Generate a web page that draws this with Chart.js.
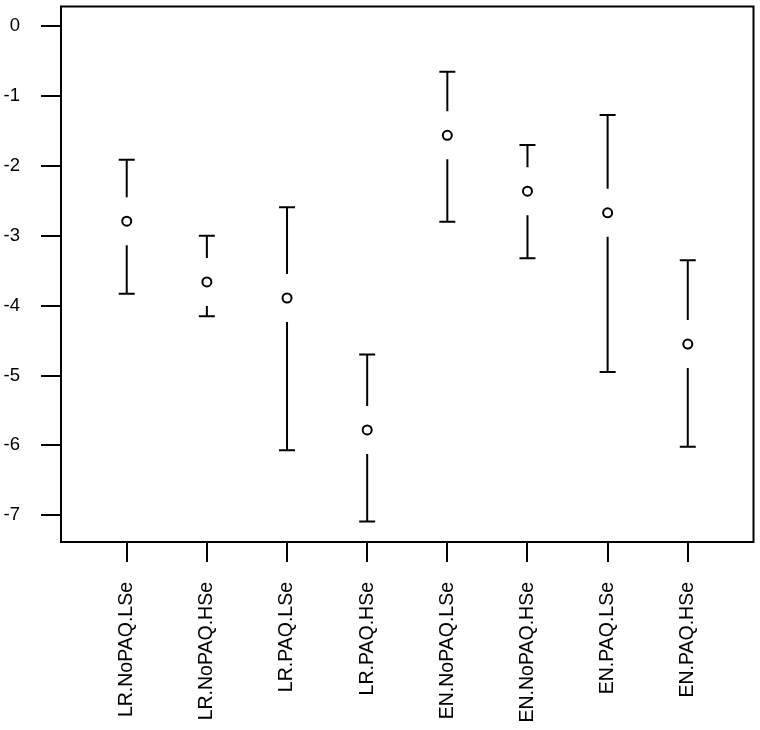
<!DOCTYPE html>
<html>
<head>
<meta charset="utf-8">
<script src="https://cdn.jsdelivr.net/npm/chart.js@4/dist/chart.umd.min.js"></script>
<style>
  html, body { margin: 0; padding: 0; background: #fff; }
  canvas { display: block; }
</style>
</head>
<body>
<canvas id="ciChart" width="760" height="730"></canvas>
<script>
// Categories along x (positions 1..8)
const categories = [
  'LR.NoPAQ.LSe', 'LR.NoPAQ.HSe', 'LR.PAQ.LSe', 'LR.PAQ.HSe',
  'EN.NoPAQ.LSe', 'EN.NoPAQ.HSe', 'EN.PAQ.LSe', 'EN.PAQ.HSe'
];
// Point estimates and interval bounds
const estimates = [-2.79, -3.66, -3.89, -5.78, -1.56, -2.36, -2.67, -4.55];
const upperCI   = [-1.91, -3.00, -2.59, -4.70, -0.65, -1.70, -1.27, -3.35];
const lowerCI   = [-3.83, -4.15, -6.07, -7.09, -2.80, -3.32, -4.95, -6.02];
// Y tick values
const yTicks = [0, -1, -2, -3, -4, -5, -6, -7];

const FONT = '"Liberation Sans", Arial, Helvetica, sans-serif';

// Draw the intervals like gplots::plotCI (gap around the point, flat caps)
const errorBars = {
  id: 'errorBars',
  afterDatasetsDraw(chart) {
    const { ctx, scales: { x, y } } = chart;
    const gap = 24, cap = 8;
    ctx.save();
    ctx.strokeStyle = '#000';
    ctx.lineWidth = 2;
    ctx.lineCap = 'butt';
    categories.forEach((_, i) => {
      const px = x.getPixelForValue(i + 1);
      const pm = y.getPixelForValue(estimates[i]);
      const pu = y.getPixelForValue(upperCI[i]);
      const pl = y.getPixelForValue(lowerCI[i]);
      ctx.beginPath();
      if (pm - gap > pu) { ctx.moveTo(px, pm - gap); ctx.lineTo(px, pu); }
      if (pm + gap < pl) { ctx.moveTo(px, pm + gap); ctx.lineTo(px, pl); }
      ctx.moveTo(px - cap, pu); ctx.lineTo(px + cap, pu);
      ctx.moveTo(px - cap, pl); ctx.lineTo(px + cap, pl);
      ctx.stroke();
    });
    ctx.restore();
  }
};

// Plot box around the chart area
const plotBox = {
  id: 'plotBox',
  afterDraw(chart) {
    const { ctx, chartArea: a } = chart;
    ctx.save();
    ctx.strokeStyle = '#000';
    ctx.lineWidth = 2;
    ctx.strokeRect(a.left, a.top, a.right - a.left, a.bottom - a.top);
    ctx.restore();
  }
};

new Chart(document.getElementById('ciChart'), {
  type: 'scatter',
  data: {
    datasets: [{
      data: estimates.map((v, i) => ({ x: i + 1, y: v })),
      pointStyle: 'circle',
      pointRadius: 4.5,
      pointBorderWidth: 2,
      pointBorderColor: '#000',
      pointBackgroundColor: '#fff'
    }]
  },
  options: {
    responsive: false,
    animation: false,
    devicePixelRatio: 1,
    layout: { padding: { top: 4, right: 5, left: 0, bottom: 0 } },
    plugins: { legend: { display: false }, tooltip: { enabled: false } },
    scales: {
      x: {
        type: 'linear',
        min: 0.18,
        max: 8.82,
        afterBuildTicks: s => { s.ticks = categories.map((_, i) => ({ value: i + 1 })); },
        afterFit: s => {
          s.height = 188;
          s.paddingTop = s.paddingBottom = s.paddingLeft = s.paddingRight = 0;
        },
        border: { display: false },
        grid: { drawOnChartArea: false, drawTicks: true, tickLength: 20, color: '#000', lineWidth: 2 },
        ticks: {
          autoSkip: false,
          minRotation: 90,
          maxRotation: 90,
          padding: 20,
          color: '#000',
          font: { family: FONT, size: 19.5 },
          callback: v => categories[v - 1]
        }
      },
      y: {
        min: -7.384,
        max: 0.284,
        afterBuildTicks: s => { s.ticks = yTicks.map(v => ({ value: v })); },
        afterFit: s => {
          s.width = 61;
          s.paddingTop = s.paddingBottom = s.paddingLeft = s.paddingRight = 0;
        },
        border: { display: false },
        grid: { drawOnChartArea: false, drawTicks: true, tickLength: 20, color: '#000', lineWidth: 2 },
        ticks: {
          padding: 21,
          color: '#000',
          font: { family: FONT, size: 18.5 }
        }
      }
    }
  },
  plugins: [errorBars, plotBox]
});
</script>
</body>
</html>
